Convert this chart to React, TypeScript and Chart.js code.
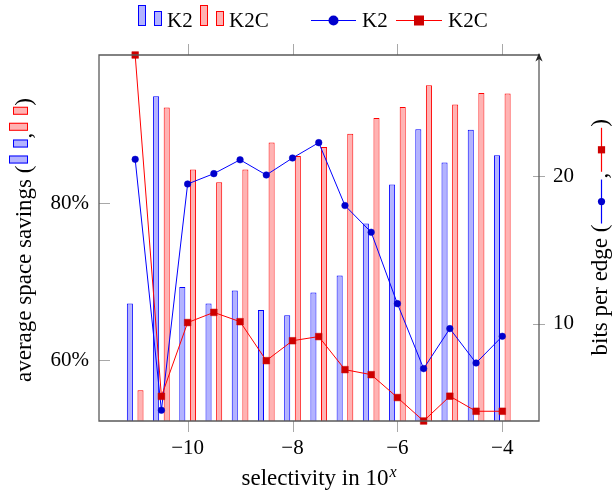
import React, { useEffect, useRef } from "react";
import { Chart, registerables } from "chart.js";

Chart.register(...registerables);

// ---- data ----
const selectivity = [-11, -10.5, -10, -9.5, -9, -8.5, -8, -7.5, -7, -6.5, -6, -5.5, -5, -4.5, -4];
const savingsK2 = [67.21, 93.57, 69.32, 67.21, 68.86, 66.4, 65.72, 68.61, 70.77, 77.38, 82.34, 89.37, 85.14, 89.33, 86.06];
const savingsK2C = [56.19, 92.13, 84.25, 82.63, 84.25, 87.68, 85.98, 87.12, 88.82, 90.81, 92.21, 94.97, 92.51, 93.99, 93.91];
const bitsK2 = [21.13, 4.13, 19.46, 20.16, 21.1, 20.07, 21.22, 22.26, 18.0, 16.19, 11.35, 6.95, 9.66, 7.33, 9.14];
const bitsK2C = [28.2, 5.07, 10.07, 10.76, 10.13, 7.49, 8.84, 9.12, 6.88, 6.54, 4.99, 3.4, 5.08, 4.06, 4.06];
const xTicks = [-10, -8, -6, -4];
const leftTicks = [60, 80];
const rightTicks = [10, 20];
const xLabel = "selectivity in 10";
const xLabelSup = "x";
const leftLabel = "average space savings (";
const rightLabel = "bits per edge (";
const seriesNames = ["K2", "K2C"];

const FONT = '"Liberation Serif", "Times New Roman", serif';
const BLUE = "rgb(0,0,255)";
const BLUE_FILL = "rgb(179,179,255)";
const BLUE_MARK = "rgb(0,0,205)";
const RED = "rgb(255,0,0)";
const RED_FILL = "rgb(255,179,179)";
const RED_MARK = "rgb(205,0,0)";

function minus(v: number) {
  return v < 0 ? "\u2212" + Math.abs(v) : String(v);
}

function barIcon(ctx: CanvasRenderingContext2D, x: number, y: number, w: number, h: number, fill: string, stroke: string) {
  ctx.fillStyle = fill;
  ctx.strokeStyle = stroke;
  ctx.lineWidth = 1;
  ctx.fillRect(x, y, w, h);
  ctx.strokeRect(x + 0.5, y + 0.5, w - 1, h - 1);
}

function lineIcon(ctx: CanvasRenderingContext2D, x0: number, x1: number, y: number, color: string, mark: string, square: boolean, r: number) {
  ctx.strokeStyle = color;
  ctx.lineWidth = 1.2;
  ctx.beginPath();
  ctx.moveTo(x0, y);
  ctx.lineTo(x1, y);
  ctx.stroke();
  const cx = (x0 + x1) / 2;
  ctx.fillStyle = mark;
  if (square) {
    ctx.fillRect(cx - r, y - r, 2 * r, 2 * r);
  } else {
    ctx.beginPath();
    ctx.arc(cx, y, r, 0, Math.PI * 2);
    ctx.fill();
  }
}

const decor = {
  id: "decor",
  afterDatasetsDraw(chart: any) {
    const ctx: CanvasRenderingContext2D = chart.ctx;
    const { left, right, top, bottom } = chart.chartArea;
    const xs = chart.scales.x;
    const ys = chart.scales.y;
    const y2 = chart.scales.y2;
    ctx.save();
    // tick marks
    ctx.strokeStyle = "#a8a8a8";
    ctx.lineWidth = 1;
    ctx.beginPath();
    xTicks.forEach((v) => {
      const px = Math.round(xs.getPixelForValue(v)) + 0.5;
      ctx.moveTo(px, top);
      ctx.lineTo(px, top - 11);
      ctx.moveTo(px, bottom);
      ctx.lineTo(px, bottom + 11);
    });
    leftTicks.forEach((v) => {
      const py = Math.round(ys.getPixelForValue(v)) + 0.5;
      ctx.moveTo(left, py);
      ctx.lineTo(left + 11, py);
    });
    rightTicks.forEach((v) => {
      const py = Math.round(y2.getPixelForValue(v)) + 0.5;
      ctx.moveTo(right - 6, py);
      ctx.lineTo(right + 6, py);
    });
    ctx.stroke();
    // frame
    ctx.strokeStyle = "#5a5a5a";
    ctx.lineWidth = 1.3;
    ctx.beginPath();
    ctx.moveTo(right, top);
    ctx.lineTo(left, top);
    ctx.lineTo(left, bottom);
    ctx.lineTo(right, bottom);
    ctx.lineTo(right, top - 1);
    ctx.stroke();
    // arrow tip on right axis
    ctx.fillStyle = "#222";
    ctx.beginPath();
    ctx.moveTo(right, top - 2);
    ctx.lineTo(right - 3.6, top + 6.5);
    ctx.lineTo(right, top + 4);
    ctx.lineTo(right + 3.6, top + 6.5);
    ctx.closePath();
    ctx.fill();
    ctx.restore();
  },
  afterDraw(chart: any) {
    const ctx: CanvasRenderingContext2D = chart.ctx;
    const { left, right } = chart.chartArea;
    ctx.save();
    ctx.fillStyle = "#000";
    ctx.textBaseline = "alphabetic";
    ctx.textAlign = "left";

    // ---- legend ----
    ctx.font = `21px ${FONT}`;
    barIcon(ctx, 138, 5, 8, 21, BLUE_FILL, BLUE);
    barIcon(ctx, 154, 11, 8, 15, BLUE_FILL, BLUE);
    ctx.fillStyle = "#000";
    ctx.fillText(seriesNames[0], 167, 27);
    barIcon(ctx, 200, 5, 8, 21, RED_FILL, RED);
    barIcon(ctx, 216, 11, 8, 15, RED_FILL, RED);
    ctx.fillStyle = "#000";
    ctx.fillText(seriesNames[1], 229, 27);
    lineIcon(ctx, 311, 356, 20.5, BLUE, BLUE_MARK, false, 5);
    ctx.fillStyle = "#000";
    ctx.fillText(seriesNames[0], 362, 27);
    lineIcon(ctx, 396, 442, 20.5, RED, RED_MARK, true, 5);
    ctx.fillStyle = "#000";
    ctx.fillText(seriesNames[1], 448, 27);

    // ---- x title ----
    ctx.font = `23px ${FONT}`;
    const w = ctx.measureText(xLabel).width;
    ctx.font = `italic 16px ${FONT}`;
    const ws = ctx.measureText(xLabelSup).width;
    const sx = (left + right) / 2 - (w + ws + 1) / 2;
    ctx.font = `23px ${FONT}`;
    ctx.fillText(xLabel, sx, 485);
    ctx.font = `italic 16px ${FONT}`;
    ctx.fillText(xLabelSup, sx + w + 1, 477);

    // ---- left title (rotated) ----
    ctx.save();
    ctx.translate(31, 382);
    ctx.rotate(-Math.PI / 2);
    ctx.font = `23px ${FONT}`;
    ctx.fillStyle = "#000";
    ctx.fillText(leftLabel, 0, 0);
    let p = ctx.measureText(leftLabel).width + 2;
    barIcon(ctx, p, -22, 8, 19, BLUE_FILL, BLUE);
    p += 16;
    barIcon(ctx, p, -18, 8, 15, BLUE_FILL, BLUE);
    p += 9;
    ctx.fillStyle = "#000";
    ctx.fillText(",", p, 0);
    p += ctx.measureText(",").width + 2;
    barIcon(ctx, p, -22, 8, 19, RED_FILL, RED);
    p += 16;
    barIcon(ctx, p, -18, 8, 15, RED_FILL, RED);
    p += 9;
    ctx.fillStyle = "#000";
    ctx.fillText(")", p, 0);
    ctx.restore();

    // ---- right title (rotated) ----
    ctx.save();
    ctx.font = `23px ${FONT}`;
    const wr = ctx.measureText(rightLabel).width;
    const total = wr + 44 + 8 + 44 + 8;
    const startY = 238 + total / 2;
    ctx.translate(607, startY);
    ctx.rotate(-Math.PI / 2);
    ctx.fillStyle = "#000";
    ctx.fillText(rightLabel, 0, 0);
    let q = wr + 1;
    lineIcon(ctx, q, q + 44, -5.5, BLUE, BLUE_MARK, false, 3.6);
    q += 45;
    ctx.fillStyle = "#000";
    ctx.fillText(",", q, 0);
    q += ctx.measureText(",").width + 1;
    lineIcon(ctx, q, q + 44, -5.5, RED, RED_MARK, true, 3.6);
    q += 45;
    ctx.fillStyle = "#000";
    ctx.fillText(")", q, 0);
    ctx.restore();

    ctx.restore();
  },
};

export default function App() {
  const ref = useRef<HTMLCanvasElement>(null);
  useEffect(() => {
    const pts = (ys: number[]) => selectivity.map((x, i) => ({ x, y: ys[i] }));
    const chart = new Chart(ref.current!, {
      type: "line",
      data: {
        datasets: [
          {
            type: "line",
            label: "K2C bits",
            data: pts(bitsK2C),
            yAxisID: "y2",
            borderColor: RED,
            borderWidth: 1,
            pointStyle: "rect",
            pointRadius: 4.7,
            pointBackgroundColor: RED_MARK,
            pointBorderColor: RED_MARK,
            pointBorderWidth: 0.5,
            clip: false,
            order: 0,
          } as any,
          {
            type: "line",
            label: "K2 bits",
            data: pts(bitsK2),
            yAxisID: "y2",
            borderColor: BLUE,
            borderWidth: 1,
            pointStyle: "circle",
            pointRadius: 3.3,
            pointBackgroundColor: BLUE_MARK,
            pointBorderColor: BLUE_MARK,
            pointBorderWidth: 0.5,
            clip: false,
            order: 1,
          },
          {
            type: "bar",
            label: "K2 savings",
            data: pts(savingsK2),
            yAxisID: "y",
            backgroundColor: BLUE_FILL,
            borderColor: BLUE,
            borderWidth: 1,
            categoryPercentage: 0.81,
            barPercentage: 0.57,
            order: 2,
          },
          {
            type: "bar",
            label: "K2C savings",
            data: pts(savingsK2C),
            yAxisID: "y",
            backgroundColor: RED_FILL,
            borderColor: RED,
            borderWidth: 1,
            categoryPercentage: 0.81,
            barPercentage: 0.57,
            order: 2,
          },
        ] as any,
      },
      options: {
        animation: false,
        responsive: false,
        events: [],
        layout: { padding: { top: 55, left: 0, right: 0, bottom: 0 } },
        plugins: { legend: { display: false }, tooltip: { enabled: false } },
        scales: {
          x: {
            type: "linear",
            position: "bottom",
            min: -11.69,
            max: -3.3,
            offset: false,
            grid: { display: false, drawTicks: false, offset: false },
            border: { display: false },
            afterBuildTicks: (s: any) => {
              s.ticks = xTicks.map((v) => ({ value: v }));
            },
            afterFit: (s: any) => {
              s.height = 75;
            },
            ticks: {
              color: "#000",
              font: { family: FONT, size: 21 },
              padding: 15,
              maxRotation: 0,
              autoSkip: false,
              callback: (v: any) => minus(Number(v)),
            },
          },
          y: {
            type: "linear",
            position: "left",
            min: 52.28,
            max: 98.82,
            grid: { display: false, drawTicks: false },
            border: { display: false },
            afterBuildTicks: (s: any) => {
              s.ticks = leftTicks.map((v) => ({ value: v }));
            },
            afterFit: (s: any) => {
              s.width = 99;
            },
            ticks: {
              color: "#000",
              font: { family: FONT, size: 21 },
              padding: 10,
              callback: (v: any) => v + "%",
            },
          },
          y2: {
            type: "linear",
            position: "right",
            min: 3.4,
            max: 28.2,
            grid: { display: false, drawTicks: false },
            border: { display: false },
            afterBuildTicks: (s: any) => {
              s.ticks = rightTicks.map((v) => ({ value: v }));
            },
            afterFit: (s: any) => {
              s.width = 74;
            },
            ticks: {
              color: "#000",
              font: { family: FONT, size: 21 },
              padding: 14,
              callback: (v: any) => String(v),
            },
          },
        },
      } as any,
      plugins: [decor],
    });
    return () => chart.destroy();
  }, []);
  return (
    <div style={{ position: "fixed", left: 0, top: 0, width: 613, height: 496 }}>
      <canvas ref={ref} width={613} height={496} style={{ display: "block" }} />
    </div>
  );
}
